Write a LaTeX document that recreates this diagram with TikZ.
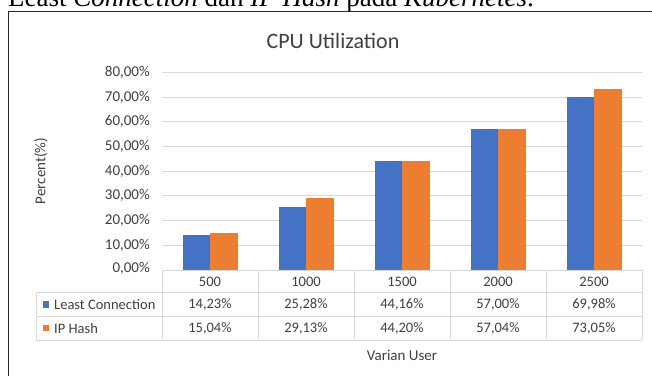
\documentclass[tikz,border=0pt]{standalone}
\usepackage{fontspec}
\setmainfont{Carlito}
\newfontfamily\captionserif{Liberation Serif}
\definecolor{lcblue}{HTML}{4472C4}
\definecolor{iporange}{HTML}{ED7D31}
\definecolor{gridgray}{HTML}{D9D9D9}
\definecolor{txtgray}{HTML}{404040}
\tikzset{
  ticklabel/.style={anchor=east, inner sep=0pt, text=txtgray, font=\fontsize{15}{18}\selectfont},
  celltext/.style={inner sep=0pt, text=txtgray, font=\fontsize{14.5}{17}\selectfont},
  axistitle/.style={inner sep=0pt, text=txtgray, font=\fontsize{15}{18}\selectfont},
  charttitle/.style={inner sep=0pt, text=txtgray, font=\fontsize{22}{26}\selectfont},
  gridline/.style={draw=gridgray, line width=0.9pt},
  tableline/.style={draw=gridgray, line width=0.9pt},
  framebox/.style={draw=black!85, line width=1.6pt},
  lcbar/.style={fill=lcblue},
  ipbar/.style={fill=iporange},
}
\begin{document}
\begin{tikzpicture}[x=1pt,y=-1pt]
\useasboundingbox (0,0) rectangle (652,376);
\clip (0,0) rectangle (652,376);
\fill[white] (0,0) rectangle (652,376);
% cut-off caption line above the figure
\node[anchor=base west, inner sep=0pt, font=\captionserif\fontsize{27}{30}\selectfont] (caption) at (8,6.5)
  {Least \textit{Connection} dan \textit{IP Hash} pada \textit{Kubernetes}.};
% chart frame (only top and left edges visible)
\draw[framebox] (652,11.5) -- (8.5,11.5) -- (8.5,376);
% title
\node[charttitle] (title) at (333,41) {CPU Utilization};
% gridlines and tick labels
\foreach \v/\lab in {1/10,2/20,3/30,4/40,5/50,6/60,7/70,8/80}{
  \draw[gridline] (162,{269.7-24.67*\v}) -- (642,{269.7-24.67*\v});
  \node[ticklabel] (tick\v) at (150,{269.7-24.67*\v}) {\lab,00\%};
}
\node[ticklabel] (tick0) at (150,268.5) {0,00\%};
% y axis title
\node[axistitle, rotate=90] (ylab) at (41,171) {Percent(\%)};
% bars
\foreach \i/\a/\b in {0/14.23/15.04, 1/25.28/29.13, 2/44.16/44.20, 3/57.00/57.04, 4/69.98/73.05}{
  \fill[lcbar] ({210+96*\i-27},269.7) rectangle ({210+96*\i},{269.7-2.467*\a});
  \fill[ipbar] ({210+96*\i},269.7) rectangle ({210+96*\i+27.5},{269.7-2.467*\b});
}
% data table
\draw[tableline] (162,270) -- (642,270);
\draw[tableline] (36,292.3) -- (642,292.3);
\draw[tableline] (36,316.7) -- (642,316.7);
\draw[tableline] (36,340) -- (642,340);
\draw[tableline] (36,292.3) -- (36,340);
\foreach \x in {162,258,354,450,546,642}{
  \draw[tableline] (\x,270) -- (\x,340);
}
\foreach \i/\c in {0/500,1/1000,2/1500,3/2000,4/2500}{
  \node[celltext] (cat\i) at ({210+96*\i},281.5) {\c};
}
\foreach \i/\t in {0/{14,23\%},1/{25,28\%},2/{44,16\%},3/{57,00\%},4/{69,98\%}}{
  \node[celltext] (lc\i) at ({210+96*\i},304.8) {\t};
}
\foreach \i/\t in {0/{15,04\%},1/{29,13\%},2/{44,20\%},3/{57,04\%},4/{73,05\%}}{
  \node[celltext] (ip\i) at ({210+96*\i},328.5) {\t};
}
% legend keys
\fill[lcbar] (42.7,301.2) rectangle (49.3,307.8);
\node[celltext, anchor=west] (lclab) at (54,304.6) {Least Connection};
\fill[ipbar] (42.7,324.8) rectangle (49.3,331.4);
\node[celltext, anchor=west] (iplab) at (54,328.2) {IP Hash};
% x axis title
\node[axistitle] (xlab) at (402,355) {Varian User};
\end{tikzpicture}
\end{document}
